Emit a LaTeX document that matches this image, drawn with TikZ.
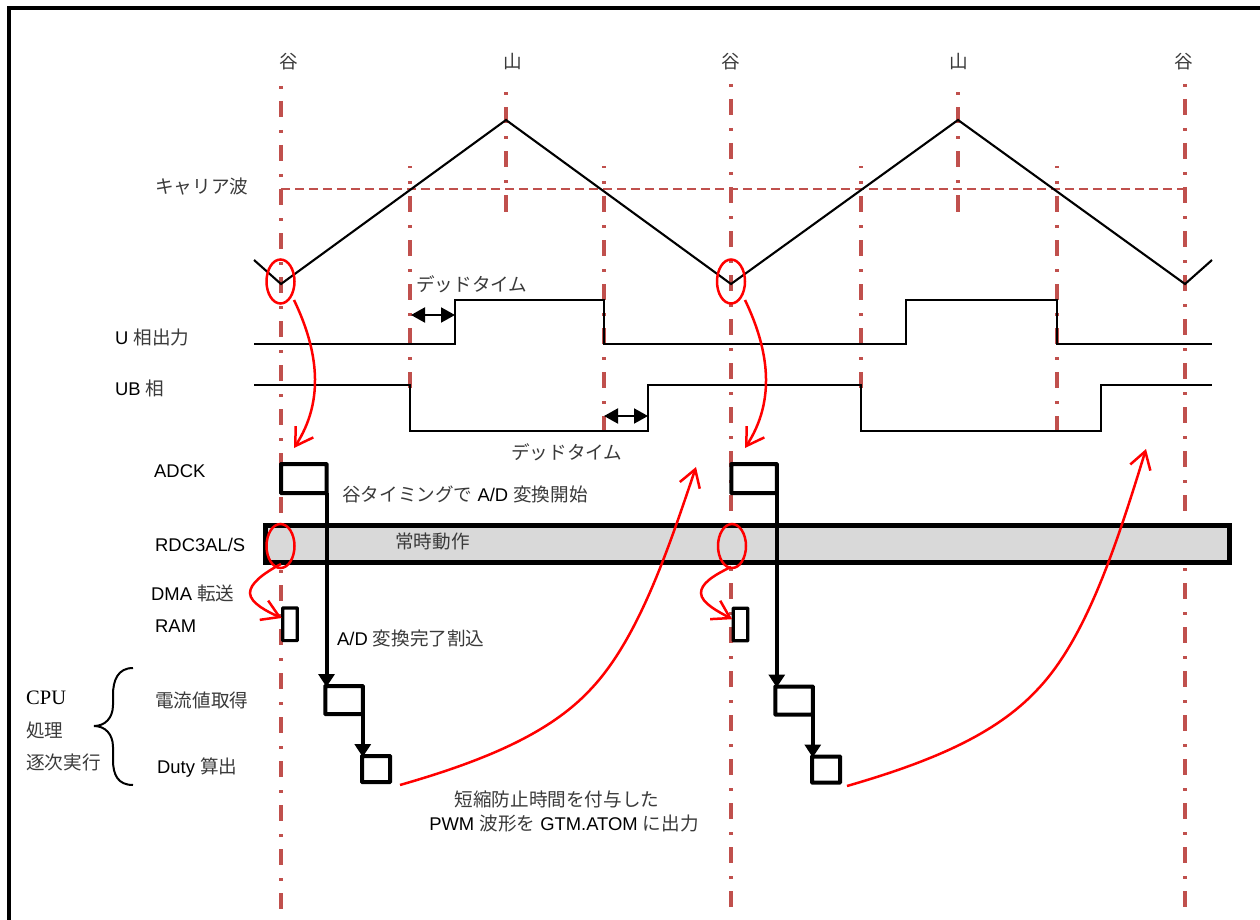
\documentclass[tikz,border=0pt]{standalone}
\usepackage{fontspec}
\setmainfont{Liberation Sans}
\newfontfamily\cjk{Noto Sans CJK JP}
\newfontfamily\serifl{Liberation Serif}
\usetikzlibrary{arrows.meta}
\definecolor{dd}{HTML}{C0504D}
\definecolor{jt}{HTML}{3A3A3A}
\newcommand{\J}[1]{{\fontsize{18.6pt}{22pt}\cjk\color{jt}#1}}
\tikzset{
  ddline/.style={draw=dd,line width=4pt,dash pattern=on 3pt off 12pt on 16pt off 13pt},
  ddthin/.style={draw=dd,line width=4pt,dash pattern=on 3pt off 12pt on 16pt off 13pt,dash phase=29.5pt},
  wave/.style={draw=black,line width=2.1pt,line join=miter},
  sig/.style={draw=black,line width=2.1pt,line join=miter},
  redc/.style={draw=red,line width=2.5pt},
  redarr/.style={draw=red,line width=2.5pt,-{Straight Barb[length=17pt,width=21pt,line width=2.5pt]}},
  tbox/.style={draw=black,line width=4pt,fill=white,inner sep=0pt,outer sep=0pt,rounded corners=0.5pt},
  flow/.style={draw=black,line width=4pt,-{Triangle[length=13pt,width=16pt]},shorten >=-1pt},
  dt/.style={draw=black,line width=2pt,{Triangle[length=14pt,width=15pt]}-{Triangle[length=14pt,width=15pt]}},
  lab/.style={inner sep=0pt,anchor=west,font=\fontsize{18.4pt}{22pt}\selectfont,text=black},
  ctr/.style={inner sep=0pt,anchor=center,font=\fontsize{18.4pt}{22pt}\selectfont,text=black}
}
\begin{document}
\begin{tikzpicture}[x=1pt,y=-1pt]
\useasboundingbox (0,0) rectangle (1260,920);
\fill[white] (0,0) rectangle (1260,920);
% frame
\draw[black,line width=4pt,line join=miter] (9,920) -- (9,8) -- (1260,8);
% vertical dash-dot lines
\draw[ddline] (281,86) -- (281,909);
\draw[ddline] (731,84) -- (731,907);
\draw[ddline] (1185,84) -- (1185,910);
\draw[ddline] (506,92.5) -- (506,212);
\draw[ddline] (958,92.5) -- (958,212);
\draw[ddthin] (410,166.5) -- (410,388);
\draw[ddthin] (604,166.5) -- (604,432);
\draw[ddthin] (861,166.5) -- (861,388);
\draw[ddthin] (1057,166.5) -- (1057,432);
\draw[dd,line width=2pt,dash pattern=on 9pt off 5pt] (281,189) -- (1185,189);
% wave
\draw[wave] (254,260) -- (281,284) -- (506,120) -- (731,284) -- (958,120) -- (1185,284) -- (1212,260);
% signals
\draw[sig] (254,344) -- (455,344) -- (455,300) -- (604,300) -- (604,344) -- (906,344) -- (906,300) -- (1057,300) -- (1057,344) -- (1212,344);
\draw[sig] (254,385) -- (410,385) -- (410,431) -- (648,431) -- (648,385) -- (861,385) -- (861,431) -- (1101,431) -- (1101,385) -- (1212,385);
\coordinate (d1a) at (411,315); \coordinate (d1b) at (455,315);
\coordinate (d2a) at (604,416); \coordinate (d2b) at (648,416);
\draw[dt] (d1a) -- (d1b);
\draw[dt] (d2a) -- (d2b);
% bar
\node[draw=black,line width=5.5pt,fill=black!15,inner sep=0pt,outer sep=0pt,minimum width=964pt,minimum height=37pt] (rdc) at (747.5,544) {};
% boxes
\node[tbox,minimum width=45.5pt,minimum height=29pt] (adck1) at (303.75,478.5) {};
\node[tbox,minimum width=45.5pt,minimum height=29pt] (adck2) at (754,478.5) {};
\node[tbox,line width=3.2pt,minimum width=14.6pt,minimum height=32.6pt] (ram1) at (290,624.3) {};
\node[tbox,line width=3.2pt,minimum width=14.6pt,minimum height=32.6pt] (ram2) at (740.5,624.5) {};
\node[tbox,minimum width=37.5pt,minimum height=28pt] (cur1) at (344,700) {};
\node[tbox,minimum width=37.5pt,minimum height=28pt] (cur2) at (794,700.5) {};
\node[tbox,minimum width=28pt,minimum height=26pt] (duty1) at (376,769) {};
\node[tbox,minimum width=28pt,minimum height=26pt] (duty2) at (826,769.5) {};
\draw[flow] (adck1.south east) -- (adck1.south east |- cur1.north);
\draw[flow] (adck2.south east) -- (adck2.south east |- cur2.north);
\draw[flow] (cur1.south east) -- (cur1.south east |- duty1.north);
\draw[flow] (cur2.south east) -- (cur2.south east |- duty2.north);
% red ellipses
\draw[redc] (280.5,281.5) ellipse [x radius=14,y radius=22];
\draw[redc] (731,281.5) ellipse [x radius=14,y radius=22];
\draw[redc] (280.5,546) ellipse [x radius=14,y radius=22];
\draw[redc] (732,546) ellipse [x radius=14,y radius=22];
% red curves
\draw[redarr] (294,300) .. controls (318,350) and (325,400) .. (294,448);
\draw[redarr] (745,300) .. controls (769,350) and (776,400) .. (745,448);
\draw[redarr] (281,564) .. controls (262,574) and (250,584) .. (250,593) .. controls (250,603) and (268,612) .. ([xshift=-1pt,yshift=-10pt]ram1.north west);
\draw[redarr] (731,567) .. controls (712,576) and (701,584) .. (701,593) .. controls (701,603) and (719,612) .. ([xshift=-1pt,yshift=-11pt]ram2.north west);
\draw[redarr] (400,785) .. controls (480,762) and (548,735) .. (590,690) .. controls (638,640) and (668,550) .. (696,467);
\draw[redarr] (847,786) .. controls (930,762) and (995,735) .. (1037,690) .. controls (1085,640) and (1115,550) .. (1146,449);
% brace
\draw[black,line width=2pt] (133,668) .. controls (118,668) and (113,680) .. (113,695) -- (113,705) .. controls (113,718) and (105,726) .. (94,726) .. controls (105,726) and (113,734) .. (113,747) -- (113,760) .. controls (113,775) and (118,785) .. (133,785);
% labels
\node[ctr] (t1) at (289,62) {\J{谷}};
\node[ctr] (t2) at (513,62) {\J{山}};
\node[ctr] (t3) at (731,62) {\J{谷}};
\node[ctr] (t4) at (959,62) {\J{山}};
\node[ctr] (t5) at (1184,62) {\J{谷}};
\node[lab] (carrier) at (155,187) {\J{キャリア波}};
\node[lab] (dead1) at (416,284) {\J{デッドタイム}};
\node[lab] (dead2) at (511,452) {\J{デッドタイム}};
\node[lab] (uout) at (115,337) {U \J{相出力}};
\node[lab] (ub) at (115,388) {UB \J{相}};
\node[lab] (adcklab) at (154,471) {ADCK};
\node[lab] (rdclab) at (155,545) {RDC3AL/S};
\node[lab] (dmalab) at (151,593) {DMA \J{転送}};
\node[lab] (ramlab) at (155,626) {RAM};
\node[lab] (curlab) at (155,700) {\J{電流値取得}};
\node[lab] (dutylab) at (157,768) {Duty \J{算出}};
\node[lab,font=\fontsize{20.5pt}{24pt}\serifl] (cpu) at (26,698) {CPU};
\node[lab] (proc) at (26,730) {\J{処理}};
\node[lab] (seq) at (26,762) {\J{逐次実行}};
\node[lab] (start) at (342,494) {\J{谷タイミングで} A/D \J{変換開始}};
\node[lab] (always) at (395,541) {\J{常時動作}};
\node[lab] (done) at (337,638) {A/D \J{変換完了割込}};
\node[ctr] (short) at (557,799) {\J{短縮防止時間を付与した}};
\node[ctr] (pwm) at (564,823) {PWM \J{波形を} GTM.ATOM \J{に出力}};
\end{tikzpicture}
\end{document}
